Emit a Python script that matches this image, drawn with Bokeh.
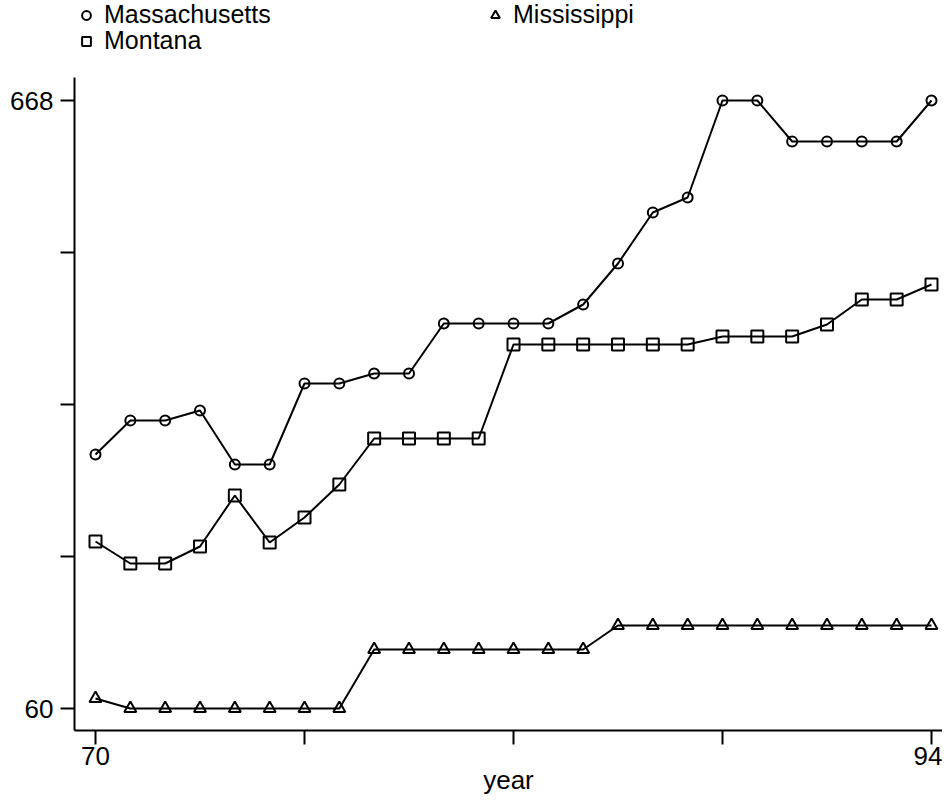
from bokeh.plotting import figure
from bokeh.models import FixedTicker, Legend, LegendItem, Range1d
from bokeh.embed import file_html
from bokeh.resources import INLINE

years = list(range(70, 95))
massachusetts = [314, 348, 348, 358, 304, 304, 385, 385, 395, 395, 445, 445, 445,
                 445, 464, 505, 556, 571, 668, 668, 627, 627, 627, 627, 668]
montana = [227, 205, 205, 222, 273, 226, 251, 284, 330, 330, 330, 330, 424,
           424, 424, 424, 424, 424, 432, 432, 432, 444, 469, 469, 484]
mississippi = [70, 60, 60, 60, 60, 60, 60, 60, 119, 119, 119, 119, 119,
               119, 119, 143, 143, 143, 143, 143, 143, 143, 143, 143, 143]

x_ticks = [70, 76, 82, 88, 94]
x_labels = {70: "70", 76: "", 82: "", 88: "", 94: "94"}
y_ticks = [60, 212, 364, 516, 668]
y_labels = {60: "60", 212: "", 364: "", 516: "", 668: "668"}

FONT = "Liberation Sans"

# frame spans the full top of the canvas so that the legend (inside it) is not clipped;
# the y axis line is limited with bounds
p = figure(width=942, height=801, output_backend="svg", toolbar_location=None,
           x_range=Range1d(69.397, 94.316), y_range=Range1d(38, 768),
           min_border_left=74, min_border_right=0, min_border_top=0,
           min_border_bottom=71)
p.grid.visible = False
p.outline_line_color = None
p.background_fill_color = "white"
p.border_fill_color = "white"

for ax, ticks, labels in ((p.xaxis[0], x_ticks, x_labels), (p.yaxis[0], y_ticks, y_labels)):
    ax.ticker = FixedTicker(ticks=ticks)
    ax.major_label_overrides = labels
    ax.axis_line_width = 2
    ax.axis_line_color = "black"
    ax.major_tick_line_width = 2
    ax.major_tick_line_color = "black"
    ax.major_tick_out = 14
    ax.major_tick_in = 0
    ax.minor_tick_line_color = None
    ax.major_label_text_font = FONT
    ax.major_label_text_font_size = "26px"
    ax.major_label_text_color = "black"

p.yaxis.bounds = (38, 691)
p.xaxis.major_label_standoff = 2
p.yaxis.major_label_standoff = 7
p.xaxis.axis_label = "year"
p.xaxis.axis_label_text_font = FONT
p.xaxis.axis_label_text_font_size = "26px"
p.xaxis.axis_label_text_font_style = "normal"
p.xaxis.axis_label_text_color = "black"
p.xaxis.axis_label_standoff = -3

series = [
    ("Massachusetts", massachusetts, "circle", 10),
    ("Montana", montana, "square", 12),
    ("Mississippi", mississippi, "triangle", 12),
]
scat = {}
for name, vals, marker, size in series:
    p.line(years, vals, line_color="black", line_width=2)
    scat[name] = p.scatter(years, vals, marker=marker, size=size, fill_color=None,
                           line_color="black", line_width=2)

legend_pos = {"Massachusetts": (1, 701), "Montana": (1, 675), "Mississippi": (410, 701)}
for name in ["Massachusetts", "Montana", "Mississippi"]:
    leg = Legend(items=[LegendItem(label=name, renderers=[scat[name]])],
                 location=legend_pos[name], padding=0, margin=0, spacing=0,
                 glyph_width=22, glyph_height=28, label_height=28, label_standoff=7,
                 border_line_color=None, background_fill_alpha=0,
                 label_text_font=FONT, label_text_font_size="25px",
                 label_text_color="black")
    p.add_layout(leg, "center")

open("out.html", "w").write(file_html(p, INLINE))
